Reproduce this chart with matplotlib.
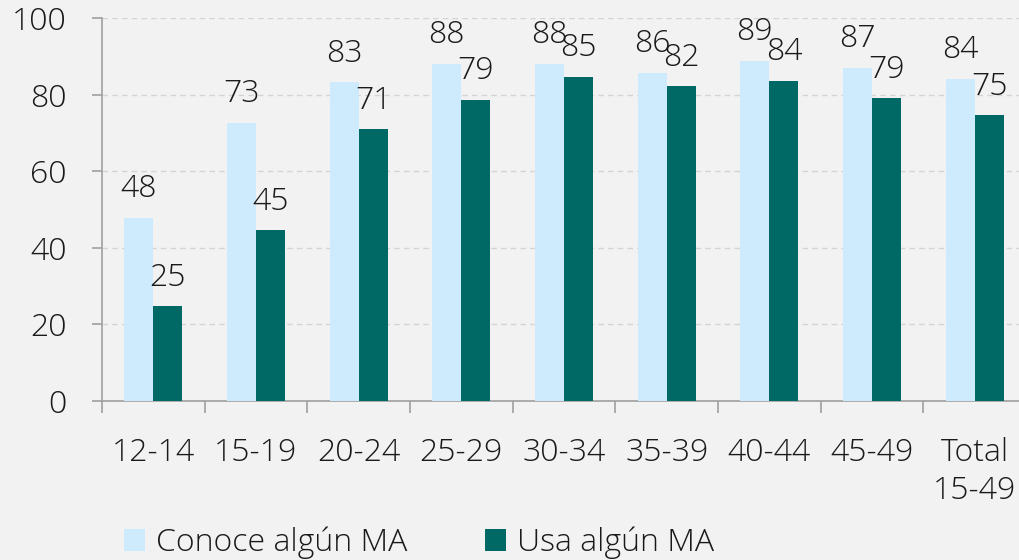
import matplotlib.pyplot as plt
import numpy as np

plt.rcParams['font.family'] = ['Open Sans', 'DejaVu Sans']
plt.rcParams['font.weight'] = 'light'

grupos = ['12-14', '15-19', '20-24', '25-29', '30-34', '35-39', '40-44', '45-49', 'Total\n15-49']
conoce = [47.8, 72.6, 83.2, 88.0, 88.0, 85.7, 88.8, 87.0, 84.1]
usa = [24.7, 44.6, 70.9, 78.6, 84.6, 82.2, 83.6, 79.0, 74.6]

c_conoce = '#cdebfc'
c_usa = '#006865'
fondo = '#f2f2f2'

fig = plt.figure(figsize=(10.2, 5.6), dpi=100, facecolor=fondo)
ax = fig.add_axes([0.1, 0.284, 0.906, 0.684])
ax.set_facecolor(fondo)

x = np.arange(len(grupos))
w = 0.283
b1 = ax.bar(x - w/2, conoce, w, color=c_conoce, label='Conoce algún MA', zorder=3)
b2 = ax.bar(x + w/2, usa, w, color=c_usa, label='Usa algún MA', zorder=3)

fs = 23
for barras in (b1, b2):
    for r in barras:
        h = r.get_height()
        ax.annotate('%.0f' % h, (r.get_x() + r.get_width()/2, h), xytext=(0, 9),
                    textcoords='offset points', ha='center', va='bottom',
                    fontsize=fs, color='#1a1a1a', zorder=4)

ax.set_ylim(0, 100)
ax.set_xlim(-0.5, len(grupos) - 0.5)
ax.set_yticks(range(0, 101, 20))
ax.yaxis.grid(True, linestyle=(0, (4, 3)), color='#d4d4d4', linewidth=1, zorder=0)

ax.set_xticks(x)
ax.set_xticklabels(grupos, linespacing=1.25)
ax.set_xticks(np.arange(-0.5, len(grupos), 1), minor=True)
ax.tick_params(axis='x', which='major', length=0, pad=26, labelsize=fs, labelcolor='#1a1a1a')
ax.tick_params(axis='x', which='minor', length=8.6, width=1.2, color='#a0a0a0', direction='out')
ax.tick_params(axis='y', length=7.5, width=1.2, color='#a0a0a0', pad=18, labelsize=fs, labelcolor='#1a1a1a')

for s in ['top', 'right']:
    ax.spines[s].set_visible(False)
for s in ['left', 'bottom']:
    ax.spines[s].set_color('#a0a0a0')
    ax.spines[s].set_linewidth(1.2)

fig.legend(handles=[b1, b2], loc='lower left', bbox_to_anchor=(0.106, -0.027), ncol=2,
           frameon=False, fontsize=fs, handlelength=0.66, handleheight=0.66,
           handletextpad=0.34, columnspacing=2.44, borderpad=0, labelcolor='#1a1a1a')

fig.savefig('out.png', dpi=100, facecolor=fondo)
